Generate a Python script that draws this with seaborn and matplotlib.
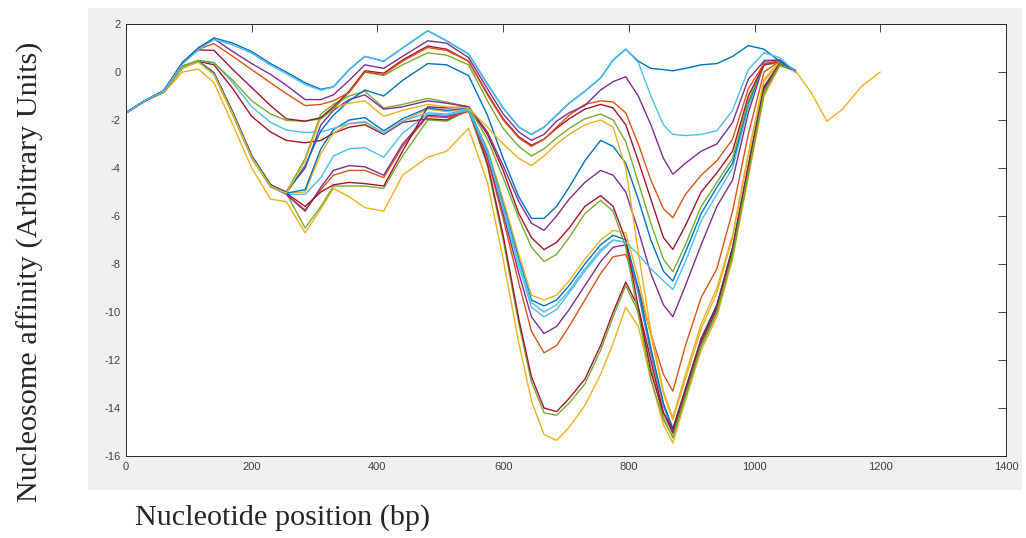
import numpy as np
import pandas as pd
import matplotlib
matplotlib.use("Agg")
import matplotlib.pyplot as plt
import seaborn as sns
from matplotlib.patches import Rectangle

# positions along the sequence (bp) where each curve is read
X_BP = [0, 30, 60, 90, 115, 140, 170, 200, 230, 255,
        285, 310, 330, 355, 380, 410, 440, 480, 510, 545,
        575, 600, 625, 645, 665, 685, 705, 730, 755, 775,
        795, 815, 835, 855, 870, 890, 915, 940, 965, 990,
        1015, 1040, 1065]

# the one yellow trace that carries on past 1065 bp
TAIL_BP = [1090, 1115, 1140, 1170, 1200]
TAIL_VAL = [-0.85, -2.05, -1.55, -0.60, 0.00]

blue_top = [-1.70, -1.20, -0.78, 0.40, 1.00, 1.42, 1.20, 0.85, 0.35, 0.00,
            -0.45, -0.72, -0.62, 0.10, 0.65, 0.45, 1.00, 1.72, 1.30, 0.75,
            -0.50, -1.50, -2.30, -2.60, -2.30, -1.80, -1.30, -0.80, -0.25, 0.50,
            0.95, 0.45, 0.15, 0.10, 0.05, 0.15, 0.30, 0.35, 0.65, 1.10,
            0.95, 0.45, 0.00]
lightblue_top = [-1.70, -1.20, -0.80, 0.33, 0.93, 1.35, 1.13, 0.78, 0.28, -0.07,
                 -0.52, -0.76, -0.62, 0.10, 0.65, 0.45, 1.00, 1.72, 1.30, 0.75,
                 -0.50, -1.50, -2.30, -2.60, -2.30, -1.80, -1.30, -0.80, -0.25, 0.50,
                 0.95, 0.40, -1.00, -2.20, -2.60, -2.65, -2.60, -2.45, -1.60, 0.10,
                 0.80, 0.60, 0.00]
purple_a = [-1.70, -1.20, -0.78, 0.40, 1.00, 1.38, 0.85, 0.35, -0.10, -0.55,
            -1.15, -1.15, -0.95, -0.35, 0.30, 0.15, 0.65, 1.30, 1.20, 0.60,
            -0.70, -1.75, -2.50, -2.85, -2.60, -2.05, -1.70, -1.40, -0.75, -0.40,
            -0.20, -1.00, -2.20, -3.60, -4.26, -3.80, -3.30, -3.00, -2.10, -0.30,
            0.45, 0.50, 0.05]
orange_a = [-1.70, -1.20, -0.78, 0.38, 0.95, 1.18, 0.65, 0.10, -0.45, -0.90,
            -1.40, -1.35, -1.20, -0.85, 0.00, -0.10, 0.45, 1.02, 0.90, 0.45,
            -0.95, -2.00, -2.75, -3.10, -2.80, -2.30, -1.80, -1.35, -1.20, -1.25,
            -1.70, -3.00, -4.50, -5.70, -6.07, -5.10, -4.30, -3.70, -2.80, -0.70,
            0.35, 0.45, 0.05]
darkred_a = [-1.70, -1.20, -0.78, 0.38, 0.92, 0.90, 0.10, -0.65, -1.40, -1.95,
             -2.05, -1.90, -1.45, -0.80, 0.05, -0.05, 0.50, 1.08, 0.95, 0.45,
             -0.90, -1.95, -2.70, -3.05, -2.80, -2.35, -1.95, -1.55, -1.35, -1.50,
             -2.20, -3.70, -5.30, -6.90, -7.39, -6.40, -5.00, -4.20, -3.30, -1.00,
             0.30, 0.45, 0.05]
green_a = [-1.70, -1.20, -0.80, 0.25, 0.48, 0.38, -0.35, -1.20, -1.75, -2.02,
           -2.05, -1.95, -1.55, -0.85, 0.00, -0.15, 0.30, 0.80, 0.70, 0.30,
           -1.20, -2.35, -3.10, -3.50, -3.20, -2.75, -2.35, -1.95, -1.75, -2.00,
           -2.90, -4.60, -6.30, -7.80, -8.32, -7.20, -5.60, -4.60, -3.60, -1.20,
           0.30, 0.40, 0.05]
lightblue_m = [-1.70, -1.20, -0.80, 0.25, 0.48, 0.40, -0.45, -1.45, -2.10, -2.42,
               -2.52, -2.50, -2.35, -2.15, -2.10, -2.55, -2.05, -1.70, -1.75, -1.55,
               -3.30, -5.60, -7.90, -9.60, -10.00, -9.70, -9.10, -8.20, -7.40, -7.00,
               -7.10, -7.60, -8.20, -8.70, -9.06, -7.90, -6.20, -5.10, -4.00, -1.50,
               0.50, 0.50, 0.05]
darkred_m = [-1.70, -1.20, -0.80, 0.25, 0.45, 0.30, -0.70, -1.85, -2.50, -2.85,
             -2.95, -2.85, -2.55, -2.30, -2.20, -2.60, -2.10, -1.95, -2.00, -1.55,
             -3.80, -6.80, -10.30, -12.70, -14.00, -14.15, -13.60, -12.80, -11.40, -10.00,
             -8.75, -9.80, -12.00, -14.20, -15.05, -13.40, -11.30, -9.90, -7.50, -4.10,
             -0.75, 0.30, 0.05]
blue_b = [-1.70, -1.20, -0.82, 0.20, 0.45, -0.05, -1.70, -3.50, -4.70, -5.05,
          -3.90, -2.45, -1.80, -1.20, -0.75, -1.00, -0.35, 0.35, 0.30, -0.15,
          -1.80, -3.60, -5.20, -6.10, -6.10, -5.60, -4.80, -3.70, -2.85, -3.10,
          -3.80, -5.30, -7.00, -8.30, -8.71, -7.50, -5.90, -4.80, -3.80, -1.30,
          0.30, 0.40, 0.05]
green_b = [-1.70, -1.20, -0.82, 0.20, 0.46, -0.05, -1.70, -3.50, -4.70, -5.00,
           -3.60, -1.75, -1.35, -1.00, -0.80, -1.50, -1.35, -1.10, -1.25, -1.45,
           -2.80, -4.40, -6.10, -7.30, -7.90, -7.60, -6.90, -5.90, -5.35, -5.80,
           -7.30, -10.10, -12.80, -14.50, -15.20, -13.50, -11.40, -10.00, -7.60, -4.20,
           -0.85, 0.30, 0.05]
yellow_a = [-1.70, -1.20, -0.83, 0.18, 0.42, -0.10, -1.75, -3.55, -4.75, -5.05,
            -3.70, -1.90, -1.50, -1.30, -1.20, -1.85, -1.60, -1.35, -1.45, -1.50,
            -2.30, -3.00, -3.60, -3.90, -3.50, -3.00, -2.60, -2.20, -2.00, -2.30,
            -4.00, -7.50, -10.80, -13.30, -14.40, -12.60, -10.50, -9.00, -6.80, -3.40,
            -0.30, 0.45, 0.05]
purple_b = [-1.70, -1.20, -0.82, 0.20, 0.45, -0.05, -1.70, -3.50, -4.70, -5.00,
            -4.00, -2.20, -1.60, -1.15, -0.95, -1.55, -1.45, -1.20, -1.30, -1.45,
            -2.50, -3.90, -5.40, -6.30, -6.60, -6.00, -5.30, -4.60, -4.10, -4.30,
            -5.00, -6.60, -8.40, -9.70, -10.20, -8.90, -7.20, -5.60, -4.50, -1.70,
            0.35, 0.45, 0.05]
blue_c = [-1.70, -1.20, -0.82, 0.20, 0.45, -0.05, -1.70, -3.50, -4.70, -5.05,
          -4.90, -3.20, -2.40, -2.00, -1.90, -2.45, -1.95, -1.50, -1.60, -1.50,
          -3.30, -5.50, -7.80, -9.50, -9.75, -9.50, -8.90, -8.00, -7.20, -6.80,
          -7.00, -9.00, -11.50, -13.80, -14.85, -13.20, -11.10, -9.70, -7.30, -3.90,
          -0.60, 0.35, 0.05]
yellow_c = [-1.70, -1.20, -0.83, 0.18, 0.42, -0.10, -1.75, -3.55, -4.75, -5.05,
            -5.00, -3.40, -2.55, -2.15, -2.05, -2.55, -2.05, -1.55, -1.65, -1.55,
            -3.20, -5.30, -7.60, -9.30, -9.50, -9.30, -8.70, -7.80, -7.00, -6.60,
            -6.70, -8.60, -11.00, -13.40, -14.50, -12.80, -10.70, -9.20, -6.90, -3.50,
            -0.40, 0.40, 0.05]
lightblue_l = [-1.70, -1.20, -0.82, 0.20, 0.45, -0.05, -1.70, -3.50, -4.75, -5.10,
               -5.10, -4.40, -3.50, -3.20, -3.15, -3.55, -2.55, -1.75, -1.80, -1.60,
               -3.40, -5.70, -8.10, -9.80, -10.20, -9.90, -9.20, -8.30, -7.50, -7.00,
               -7.10, -9.10, -11.60, -13.85, -14.90, -13.25, -11.15, -9.75, -7.35, -3.95,
               -0.65, 0.35, 0.05]
purple_c = [-1.70, -1.20, -0.82, 0.20, 0.45, -0.05, -1.70, -3.50, -4.75, -5.10,
            -5.80, -4.80, -4.10, -3.90, -3.95, -4.30, -3.00, -1.80, -1.85, -1.60,
            -3.50, -5.90, -8.40, -10.20, -10.90, -10.60, -9.90, -8.90, -7.90, -7.30,
            -7.20, -9.20, -11.70, -13.90, -14.95, -13.30, -11.20, -9.80, -7.40, -4.00,
            -0.70, 0.35, 0.05]
orange_c = [-1.70, -1.20, -0.82, 0.20, 0.45, -0.05, -1.70, -3.50, -4.75, -5.10,
            -5.75, -4.90, -4.30, -4.10, -4.10, -4.40, -3.10, -1.85, -1.90, -1.65,
            -3.60, -6.10, -8.80, -10.80, -11.70, -11.40, -10.60, -9.50, -8.40, -7.70,
            -7.60, -9.00, -10.90, -12.60, -13.30, -11.40, -9.40, -8.20, -5.80, -2.60,
            0.00, 0.45, 0.05]
darkred_l = [-1.70, -1.20, -0.82, 0.20, 0.45, -0.05, -1.70, -3.50, -4.70, -5.05,
             -5.60, -5.00, -4.70, -4.60, -4.65, -4.75, -3.30, -1.45, -1.50, -1.45,
             -2.60, -4.10, -5.90, -6.90, -7.40, -7.10, -6.50, -5.60, -5.15, -5.60,
             -7.00, -9.80, -12.50, -14.20, -14.90, -13.25, -11.15, -9.75, -7.35, -3.95,
             -0.65, 0.35, 0.05]
green_d = [-1.70, -1.20, -0.84, 0.15, 0.44, -0.10, -1.80, -3.60, -4.80, -5.05,
           -6.50, -5.60, -4.75, -4.75, -4.75, -4.85, -3.50, -2.00, -2.05, -1.60,
           -3.90, -7.00, -10.50, -12.90, -14.20, -14.30, -13.80, -13.00, -11.60, -10.20,
           -8.90, -10.00, -12.30, -14.40, -15.25, -13.55, -11.45, -10.05, -7.65, -4.25,
           -0.90, 0.30, 0.05]
yellow_d = [-1.70, -1.22, -0.86, 0.00, 0.12, -0.45, -2.20, -4.00, -5.30, -5.40,
            -6.70, -5.70, -4.85, -5.20, -5.65, -5.80, -4.30, -3.55, -3.30, -2.35,
            -4.60, -7.80, -11.30, -13.70, -15.10, -15.35, -14.80, -13.90, -12.60, -11.30,
            -9.80, -10.60, -12.80, -14.70, -15.45, -13.70, -11.60, -10.20, -7.80, -4.40,
            -1.00, 0.25, 0.05]

BLUE, ORANGE, YELLOW = "#0072BD", "#D95319", "#EDB120"
PURPLE, GREEN, LBLUE, DRED = "#7E2F8E", "#77AC30", "#4DBEEE", "#A2142F"

# drawing order, bottom first
curves = [
    ("yellow_d", yellow_d, YELLOW), ("green_d", green_d, GREEN),
    ("darkred_m", darkred_m, DRED), ("orange_c", orange_c, ORANGE),
    ("purple_c", purple_c, PURPLE), ("lightblue_l", lightblue_l, LBLUE),
    ("yellow_c", yellow_c, YELLOW), ("blue_c", blue_c, BLUE),
    ("darkred_l", darkred_l, DRED), ("green_b", green_b, GREEN),
    ("purple_b", purple_b, PURPLE), ("lightblue_m", lightblue_m, LBLUE),
    ("blue_b", blue_b, BLUE), ("yellow_a", yellow_a, YELLOW),
    ("green_a", green_a, GREEN), ("darkred_a", darkred_a, DRED),
    ("orange_a", orange_a, ORANGE), ("purple_a", purple_a, PURPLE),
    ("blue_top", blue_top, BLUE), ("lightblue_top", lightblue_top, LBLUE),
]

frames = []
for name, vals, _ in curves:
    xs, ys = list(X_BP), list(vals)
    if name == "yellow_a":
        xs += TAIL_BP
        ys += TAIL_VAL
    frames.append(pd.DataFrame({"bp": xs, "affinity": ys, "curve": name}))
df = pd.concat(frames, ignore_index=True)

sns.set_style("white")
plt.rcParams["font.family"] = ["Liberation Sans", "DejaVu Sans"]
plt.rcParams["axes.unicode_minus"] = False

W, H = 1026, 538
fig = plt.figure(figsize=(W / 100, H / 100), dpi=100)
# grey panel behind the axes, like the MATLAB figure window
fig.patches.append(Rectangle((88 / W, 1 - 490 / H), (1022 - 88) / W, (490 - 8) / H,
                             transform=fig.transFigure, facecolor="#f0f0f0",
                             edgecolor="none", zorder=-10))
ax = fig.add_axes([126 / W, 1 - 456 / H, 880 / W, 432 / H])
ax.set_zorder(5)
ax.set_facecolor("white")

sns.lineplot(data=df, x="bp", y="affinity", hue="curve",
             hue_order=[c[0] for c in curves],
             palette={c[0]: c[2] for c in curves},
             estimator=None, sort=False, legend=False, linewidth=1.0, ax=ax)

ax.set_xlim(0, 1400)
ax.set_ylim(-16, 2)
ax.set_xticks(np.arange(0, 1401, 200))
ax.set_yticks(np.arange(-16, 3, 2))
ax.set_xlabel("")
ax.set_ylabel("")
ax.tick_params(direction="in", length=5.5, width=0.6, color="#262626",
               labelcolor="#404040", labelsize=8, top=True, right=True, pad=4)
for s in ax.spines.values():
    s.set_visible(True)
    s.set_color("#262626")
    s.set_linewidth(0.7)

fig.text(30 / W, 1 - 272 / H, "Nucleosome affinity (Arbitrary Units)", rotation=90,
         family="Liberation Serif", fontsize=21.8, ha="center", va="center")
fig.text(283 / W, 1 - 518 / H, "Nucleotide position (bp)",
         family="Liberation Serif", fontsize=21.8, ha="center", va="center")

fig.savefig("out.png", dpi=100)
